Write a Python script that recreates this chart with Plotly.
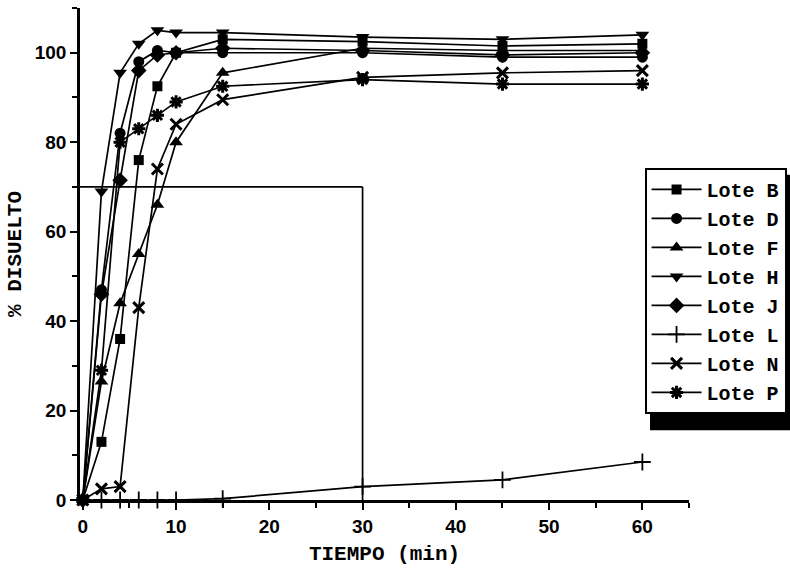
import plotly.graph_objects as go

# Dissolution profiles: % dissolved versus time (min)
tiempo = [0, 2, 4, 6, 8, 10, 15, 30, 45, 60]

lote_b = [0, 13, 36, 76, 92.5, 100, 103, 102.5, 101.5, 102]
lote_d = [0, 47, 82, 98, 100.5, 100, 100, 100, 99, 99]
lote_f = [0, 26.5, 44, 55, 66, 80, 95.5, 101, 100.5, 100.5]
lote_h = [0, 69, 95.5, 102, 105, 104.5, 104.5, 103.5, 103, 104]
lote_j = [0, 46, 71.5, 96, 99.5, 100, 101, 100.5, 99.5, 100]
lote_l = [0, 0, 0, 0, 0, 0, 0.3, 3, 4.5, 8.5]
lote_n = [0, 2.5, 3, 43, 74, 84, 89.5, 94.5, 95.5, 96]
lote_p = [0, 29, 80, 83, 86, 89, 92.5, 94, 93, 93]

nombres = ["Lote B", "Lote D", "Lote F", "Lote H", "Lote J", "Lote L", "Lote N", "Lote P"]
series = [lote_b, lote_d, lote_f, lote_h, lote_j, lote_l, lote_n, lote_p]
simbolos = ["square", "circle", "triangle-up", "triangle-down", "diamond",
            "cross-thin-open", "x-thin-open", "asterisk-open"]
tamanos = [10, 11, 12, 12, 12, 12, 11, 11]
grosor_marca = [0, 0, 0, 0, 0, 1.8, 3, 3]

# Specification limit: Q = 70 % at 30 min
limite_q = 70
limite_t = 30

fig = go.Figure()
for nombre, valores, sim, tam, gm in zip(nombres, series, simbolos, tamanos, grosor_marca):
    fig.add_trace(go.Scatter(
        x=tiempo, y=valores, name=nombre, mode="lines+markers",
        line=dict(color="black", width=1.7),
        marker=dict(symbol=sim, size=tam, color="black",
                    line=dict(color="black", width=gm)),
        cliponaxis=False,
    ))

fig.add_shape(type="line", xref="x", yref="y", x0=-0.3, x1=limite_t,
              y0=limite_q, y1=limite_q, line=dict(color="black", width=1.7))
fig.add_shape(type="line", xref="x", yref="y", x0=limite_t, x1=limite_t,
              y0=limite_q, y1=0, line=dict(color="black", width=1.7))

# drop shadow behind the legend box
fig.add_shape(type="rect", xref="paper", yref="paper",
              x0=0.936, x1=1.17, y0=0.142, y1=0.661,
              fillcolor="black", line=dict(width=0), layer="above")

tick_font = dict(family="Liberation Sans Narrow, Liberation Sans, Arial", size=19,
                 color="black", weight="bold")
title_font = dict(family="Liberation Mono, Courier New, monospace", size=21,
                  color="black", weight="bold")

fig.update_layout(
    width=790, height=574,
    margin=dict(l=80, r=101, t=8, b=74, autoexpand=False),
    plot_bgcolor="white", paper_bgcolor="white",
    showlegend=True,
    legend=dict(
        x=0.927, y=0.675, xanchor="left", yanchor="top",
        bgcolor="white", bordercolor="black", borderwidth=2,
        font=dict(family="Liberation Mono, Courier New, monospace", size=20,
                  color="black", weight="bold"),
        itemwidth=50,
        tracegroupgap=0,
    ),
    xaxis=dict(
        range=[-0.3, 65], showgrid=False, zeroline=False, automargin=False,
        showline=True, linecolor="black", linewidth=2.5,
        ticks="outside", ticklen=7, tickwidth=2, tickcolor="black",
        dtick=10, tick0=0,
        minor=dict(dtick=5, tick0=0, ticks="outside", ticklen=5, tickwidth=2, tickcolor="black"),
        tickfont=tick_font,
        title=dict(text="TIEMPO (min)", font=title_font, standoff=10),
    ),
    yaxis=dict(
        range=[0, 110], showgrid=False, zeroline=False, automargin=False,
        showline=True, linecolor="black", linewidth=2.5,
        ticks="outside", ticklen=7, tickwidth=2, tickcolor="black",
        dtick=20, tick0=0,
        minor=dict(dtick=10, tick0=0, ticks="outside", ticklen=5, tickwidth=2, tickcolor="black"),
        tickfont=tick_font,
        title=dict(text="% DISUELTO", font=title_font, standoff=8),
    ),
)

fig.write_html("out.html")
